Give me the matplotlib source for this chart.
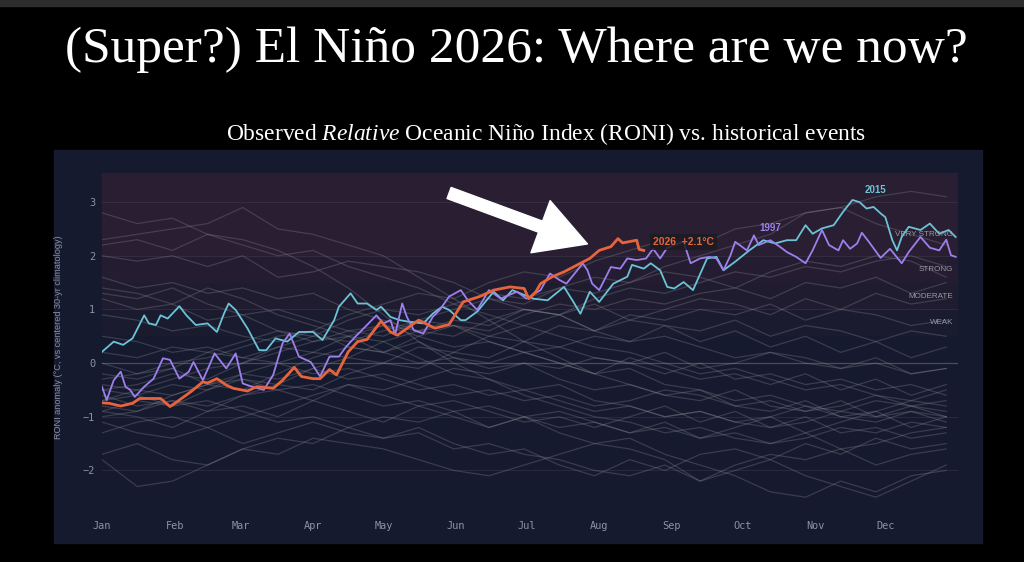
import numpy as np
import matplotlib.pyplot as plt
from matplotlib.patches import Rectangle

plt.rcParams['mathtext.fontset'] = 'custom'
plt.rcParams['mathtext.rm'] = 'Liberation Serif'
plt.rcParams['mathtext.it'] = 'Liberation Serif:italic'

# month ticks (day of year)
month_days = [0, 31, 59, 90, 120, 151, 181, 212, 243, 273, 304, 334]
month_labels = ['Jan', 'Feb', 'Mar', 'Apr', 'May', 'Jun',
                'Jul', 'Aug', 'Sep', 'Oct', 'Nov', 'Dec']

# strength bands (lower, upper, label position, label)
band_lows = [2.0, 1.5, 1.0, 0.5]
band_highs = [3.55, 2.0, 1.5, 1.0]
band_label_y = [2.4, 1.75, 1.25, 0.75]
band_names = ['VERY STRONG', 'STRONG', 'MODERATE', 'WEAK']

# highlighted years: (day of year, RONI anomaly)
roni_2026 = [(0, -0.74), (3, -0.75), (8, -0.80), (13, -0.75), (16, -0.66), (25, -0.66),
             (29, -0.81), (32, -0.72), (38, -0.53), (43, -0.35), (45, -0.37), (49, -0.29),
             (53, -0.41), (56, -0.47), (62, -0.52), (66, -0.44), (73, -0.47), (77, -0.32),
             (82, -0.08), (85, -0.25), (90, -0.29), (93, -0.29), (97, -0.12), (100, -0.22),
             (105, 0.21), (109, 0.40), (113, 0.44), (119, 0.78), (123, 0.58), (126, 0.52),
             (135, 0.80), (142, 0.65), (148, 0.72), (154, 1.14), (161, 1.24), (167, 1.36),
             (174, 1.42), (180, 1.39), (182, 1.20), (185, 1.33), (187, 1.48), (192, 1.61),
             (197, 1.70), (204, 1.86), (208, 1.95), (212, 2.10), (217, 2.17), (220, 2.32),
             (222, 2.24), (228, 2.29), (229, 2.12), (231, 2.10)]

roni_1997 = [(0, -0.44), (2, -0.69), (5, -0.32), (8, -0.16), (10, -0.44), (12, -0.50),
             (14, -0.63), (18, -0.44), (22, -0.29), (26, 0.09), (29, 0.06), (33, -0.29),
             (37, -0.16), (39, 0.02), (43, -0.32), (48, 0.18), (53, -0.10), (57, 0.18),
             (60, -0.38), (64, -0.44), (69, -0.50), (73, -0.22), (77, 0.37), (80, 0.55),
             (84, 0.12), (89, 0.02), (93, -0.25), (97, 0.12), (101, 0.12), (104, 0.30),
             (108, 0.49), (113, 0.71), (117, 0.89), (120, 0.74), (123, 0.80), (125, 0.53),
             (128, 1.11), (130, 0.86), (133, 0.61), (137, 0.55), (141, 0.86), (144, 0.99),
             (148, 1.24), (153, 1.36), (156, 1.17), (160, 0.99), (165, 1.36), (170, 1.20),
             (172, 1.24), (177, 1.33), (181, 1.20), (187, 1.36), (191, 1.67), (195, 1.55),
             (198, 1.48), (201, 1.64), (205, 1.86), (207, 1.73), (209, 1.48), (212, 1.36),
             (217, 1.79), (221, 1.76), (224, 1.95), (228, 1.92), (232, 1.95), (235, 2.13),
             (238, 1.95), (241, 2.15), (248, 2.26), (251, 1.86), (255, 1.95), (259, 1.98),
             (262, 1.95), (265, 1.73), (268, 2.01), (270, 2.26), (275, 2.10), (278, 2.38),
             (280, 2.20), (285, 2.29), (289, 2.17), (292, 2.07), (296, 1.98), (300, 1.86),
             (303, 2.10), (307, 2.48), (310, 2.20), (314, 2.10), (316, 2.29), (319, 2.13),
             (322, 2.23), (324, 2.43), (327, 2.26), (332, 1.96), (336, 2.13), (341, 1.86),
             (344, 2.07), (349, 2.35), (353, 2.15), (357, 2.10), (360, 2.30), (362, 2.01),
             (364, 1.98)]

roni_2015 = [(0, 0.21), (5, 0.40), (9, 0.34), (13, 0.46), (18, 0.89), (20, 0.74), (23, 0.71),
             (25, 0.89), (28, 0.83), (33, 1.06), (36, 0.89), (40, 0.71), (45, 0.74), (49, 0.58),
             (52, 0.92), (54, 1.11), (57, 0.99), (62, 0.65), (67, 0.24), (70, 0.24), (74, 0.46),
             (79, 0.40), (84, 0.58), (90, 0.58), (94, 0.43), (99, 0.80), (101, 1.05), (106, 1.30),
             (109, 1.11), (113, 1.11), (117, 0.99), (119, 1.05), (123, 0.86), (127, 0.80),
             (131, 0.77), (137, 0.74), (141, 0.92), (145, 1.05), (148, 0.99), (153, 0.80),
             (155, 0.80), (160, 0.96), (167, 1.33), (171, 1.17), (175, 1.36), (180, 1.27),
             (184, 1.20), (190, 1.17), (197, 1.42), (201, 1.14), (204, 0.92), (208, 1.33),
             (212, 1.14), (218, 1.48), (224, 1.61), (226, 1.83), (231, 1.76), (234, 1.86),
             (238, 1.73), (241, 1.42), (244, 1.39), (248, 1.51), (252, 1.36), (258, 1.95),
             (262, 1.98), (265, 1.73), (270, 1.89), (276, 2.10), (282, 2.29), (287, 2.23),
             (292, 2.29), (296, 2.29), (300, 2.57), (303, 2.41), (307, 2.51), (312, 2.57),
             (316, 2.82), (320, 3.04), (323, 3.00), (326, 2.88), (329, 2.91), (332, 2.79),
             (334, 2.72), (337, 2.29), (339, 2.10), (341, 2.35), (344, 2.54), (349, 2.48),
             (353, 2.60), (357, 2.41), (361, 2.48), (364, 2.35)]

# other historical years, sampled every 15 days
grey_days = list(range(0, 361, 15))
grey_years = [
    [2.8, 2.6, 2.7, 2.4, 2.3, 2.1, 1.8, 1.4, 0.9, 0.4, 0.0, -0.3, -0.6, -0.8, -1.0, -1.1, -1.3, -1.2, -1.4, -1.5, -1.3, -1.6, -1.5, -1.3, -1.2],
    [2.3, 2.4, 2.5, 2.6, 2.9, 2.5, 2.4, 2.2, 2.0, 1.6, 1.2, 0.8, 0.4, 0.1, -0.2, -0.4, -0.6, -0.5, -0.8, -0.9, -0.7, -1.0, -1.1, -0.9, -1.0],
    [2.2, 2.3, 2.1, 2.4, 2.2, 2.0, 2.1, 1.8, 1.6, 1.4, 1.1, 0.9, 0.7, 0.5, 0.3, 0.2, 0.0, -0.2, -0.1, -0.3, -0.5, -0.4, -0.6, -0.8, -0.7],
    [2.0, 1.9, 2.0, 1.8, 2.0, 1.6, 1.7, 1.9, 1.8, 1.7, 1.5, 1.2, 1.0, 0.9, 0.6, 0.4, 0.5, 0.3, 0.1, 0.2, 0.0, -0.1, 0.1, -0.2, -0.1],
    [1.6, 1.4, 1.5, 1.3, 1.4, 1.2, 1.3, 1.0, 0.8, 0.6, 0.7, 0.4, 0.2, 0.0, -0.2, -0.1, -0.4, -0.5, -0.7, -0.6, -0.8, -0.9, -0.7, -0.8, -1.0],
    [1.4, 1.3, 1.1, 1.4, 1.2, 0.9, 0.7, 0.5, 0.4, 0.1, -0.2, -0.3, -0.5, -0.4, -0.7, -0.8, -1.0, -0.9, -1.1, -1.2, -1.0, -1.3, -1.2, -1.4, -1.3],
    [1.3, 1.2, 1.4, 1.1, 0.9, 1.0, 0.8, 0.6, 0.7, 0.5, 0.3, 0.4, 0.2, 0.3, 0.1, 0.0, -0.2, 0.0, -0.3, -0.2, -0.4, -0.3, -0.5, -0.4, -0.6],
    [1.2, 1.0, 1.1, 0.8, 0.9, 0.6, 0.4, 0.5, 0.2, 0.0, 0.1, -0.1, 0.0, -0.3, -0.5, -0.4, -0.6, -0.7, -0.5, -0.8, -0.9, -0.7, -1.0, -0.9, -1.1],
    [0.9, 0.8, 0.6, 0.7, 0.5, 0.4, 0.6, 0.3, 0.2, 0.4, 0.1, 0.0, 0.2, 0.0, -0.2, 0.1, -0.1, -0.3, -0.2, -0.4, -0.2, -0.5, -0.3, -0.6, -0.4],
    [-0.3, -0.2, 0.0, 0.1, 0.3, 0.5, 0.6, 0.9, 1.1, 1.3, 1.2, 1.5, 1.7, 1.6, 1.9, 2.1, 2.3, 2.2, 2.5, 2.6, 2.8, 2.9, 3.1, 3.2, 3.1],
    [-0.5, -0.4, -0.2, -0.3, 0.0, 0.2, 0.4, 0.6, 0.5, 0.8, 1.0, 1.2, 1.1, 1.4, 1.6, 1.5, 1.8, 2.0, 2.2, 2.4, 2.8, 2.9, 2.6, 2.4, 2.2],
    [-0.7, -0.6, -0.4, -0.5, -0.2, 0.0, 0.2, 0.1, 0.4, 0.6, 0.5, 0.8, 1.0, 0.9, 1.2, 1.4, 1.3, 1.5, 1.7, 1.6, 1.8, 1.7, 1.9, 2.0, 1.8],
    [-0.8, -0.9, -0.6, -0.4, -0.5, -0.2, 0.1, 0.3, 0.2, 0.5, 0.7, 0.6, 0.9, 1.1, 1.0, 1.2, 1.1, 1.3, 1.4, 1.2, 1.5, 1.4, 1.6, 1.3, 1.5],
    [-0.4, -0.5, -0.3, -0.1, 0.0, 0.3, 0.2, 0.5, 0.7, 0.6, 0.8, 0.7, 1.0, 0.9, 1.1, 0.8, 1.0, 1.2, 1.1, 0.9, 1.2, 1.0, 1.3, 1.1, 1.2],
    [-0.9, -0.7, -0.8, -0.5, -0.3, -0.4, -0.1, 0.1, 0.0, 0.3, 0.2, 0.5, 0.4, 0.7, 0.6, 0.9, 0.8, 1.0, 0.9, 1.1, 0.8, 1.0, 0.9, 0.7, 0.8],
    [-0.6, -0.8, -0.7, -0.9, -0.6, -0.4, -0.5, -0.2, 0.0, -0.1, 0.2, 0.1, 0.4, 0.3, 0.5, 0.4, 0.7, 0.6, 0.8, 0.5, 0.7, 0.6, 0.4, 0.6, 0.5],
    [0.2, 0.1, 0.3, 0.2, 0.4, 0.6, 0.5, 0.8, 1.0, 0.9, 1.1, 1.3, 1.2, 1.4, 1.3, 1.5, 1.7, 1.6, 1.4, 1.7, 1.9, 1.8, 2.0, 1.9, 1.6],
    [0.0, -0.2, -0.1, 0.2, 0.1, 0.3, 0.5, 0.4, 0.6, 0.8, 0.7, 0.5, 0.7, 0.9, 0.6, 0.8, 0.7, 0.4, 0.6, 0.3, 0.5, 0.2, 0.4, 0.1, 0.3],
    [-1.8, -2.3, -2.2, -1.9, -1.6, -1.4, -1.5, -1.2, -1.0, -1.1, -0.9, -1.2, -1.0, -1.3, -1.5, -1.4, -1.7, -1.9, -2.1, -2.4, -2.5, -2.2, -2.4, -2.1, -2.0],
    [-1.7, -1.5, -1.8, -1.9, -1.6, -1.7, -1.4, -1.5, -1.6, -1.8, -2.0, -2.1, -1.9, -1.7, -1.5, -1.6, -1.8, -2.2, -1.9, -1.7, -1.8, -1.6, -1.9, -1.7, -1.6],
    [-1.1, -1.3, -1.4, -1.2, -1.5, -1.3, -1.1, -1.3, -1.4, -1.2, -1.5, -1.7, -1.6, -1.9, -2.1, -1.8, -2.0, -1.7, -1.6, -1.8, -1.5, -1.7, -1.4, -1.6, -1.5],
    [-0.9, -1.0, -1.2, -0.9, -0.8, -1.0, -0.7, -0.9, -1.1, -0.8, -1.0, -1.2, -1.0, -0.9, -1.1, -1.3, -1.1, -1.4, -1.2, -1.0, -1.3, -1.1, -0.9, -1.2, -1.0],
    [-1.0, -0.9, -0.7, -0.8, -0.6, -0.5, -0.7, -0.4, -0.6, -0.8, -0.7, -0.9, -1.1, -1.0, -1.2, -1.0, -0.8, -1.1, -0.9, -1.2, -1.1, -0.9, -1.0, -0.8, -0.9],
    [-0.7, -0.5, -0.6, -0.4, -0.2, -0.3, -0.1, -0.3, -0.2, -0.4, -0.6, -0.5, -0.7, -0.6, -0.8, -0.7, -0.5, -0.6, -0.8, -0.7, -0.9, -0.8, -0.6, -0.7, -0.5],
    [-1.3, -1.1, -1.0, -1.2, -1.0, -0.8, -0.6, -0.4, -0.5, -0.3, -0.1, -0.2, 0.0, -0.1, 0.1, 0.0, 0.2, -0.1, 0.0, 0.2, 0.1, -0.1, 0.0, -0.2, -0.1],
    [-0.5, -0.6, -0.8, -0.7, -0.9, -1.1, -1.0, -1.2, -1.4, -1.3, -1.6, -1.5, -1.7, -1.8, -2.0, -2.1, -1.9, -2.2, -2.0, -1.8, -2.1, -2.3, -2.5, -2.2, -1.9],
    [-0.2, -0.3, -0.1, -0.4, -0.3, -0.5, -0.4, -0.6, -0.8, -0.7, -0.9, -0.8, -1.0, -1.2, -1.1, -1.3, -1.2, -1.4, -1.3, -1.5, -1.4, -1.2, -1.3, -1.1, -1.2],
    [0.5, 0.4, 0.2, 0.3, 0.1, 0.0, -0.2, -0.1, -0.3, -0.5, -0.4, -0.6, -0.5, -0.7, -0.9, -0.8, -1.0, -0.9, -1.1, -1.0, -0.8, -1.0, -0.9, -0.7, -0.8],
]

NAVY = '#161a2e'
C2026 = '#e8643c'
C1997 = '#9d80ec'
C2015 = '#6cc3d5'

W, H = 1024, 562
fig = plt.figure(figsize=(W / 100, H / 100), dpi=100, facecolor='black')
fig.patches.append(Rectangle((0, 1 - 6 / H), 1, 6 / H, transform=fig.transFigure,
                             color='#2d2d2d', zorder=-2))
fig.patches.append(Rectangle((54 / W, 19 / H), 928 / W, 393 / H, transform=fig.transFigure,
                             color=NAVY, zorder=-2))

ax = fig.add_axes([102 / W, 1 - 502.6 / H, 856 / W, 330 / H])
ax.set_facecolor(NAVY)
ax.set_xlim(0, 365)
ax.set_ylim(-2.6, 3.55)
for s in ax.spines.values():
    s.set_visible(False)

# strength bands
for lo, hi, a in zip(band_lows, band_highs, [0.2, 0.15, 0.1, 0.05]):
    ax.axhspan(lo, hi, color='#783246', alpha=a, lw=0, zorder=0)

ax.set_yticks([-2, -1, 0, 1, 2, 3])
for v in [-2, -1, 1, 2, 3]:
    ax.axhline(v, color='white', alpha=0.07, lw=0.8, zorder=1)
ax.axhline(0, color='white', alpha=0.22, lw=0.9, zorder=1)

for vals in grey_years:
    ax.plot(grey_days, vals, color='#8a8c94', alpha=0.3, lw=0.9, zorder=2)

for series, col, lw in [(roni_2015, C2015, 1.3), (roni_1997, C1997, 1.3), (roni_2026, C2026, 2.0)]:
    d, v = zip(*series)
    ax.plot(d, v, color=col, lw=lw, zorder=4, solid_joinstyle='round')

for y, name in zip(band_label_y, band_names):
    ax.text(363, y, name, ha='right', va='center', fontsize=5.8, color='#9a9aa2',
            family='Liberation Sans', zorder=5)

ax.text(330, 3.13, '2015', color=C2015, fontsize=7, fontweight='bold',
        family='Liberation Sans', ha='center', va='bottom', zorder=6)
ax.text(285, 2.42, '1997', color=C1997, fontsize=7, fontweight='bold',
        family='Liberation Sans', ha='center', va='bottom', zorder=6)
ax.text(235, 2.25, '2026  +2.1°C', color=C2026, fontsize=7.5, fontweight='bold',
        family='Liberation Sans', ha='left', va='center', zorder=6,
        bbox=dict(boxstyle='square,pad=0.3', fc='#1c1c22', ec='none', alpha=0.85))

# arrow pointing at 2026
ax.annotate('', xy=(207, 2.22), xytext=(148, 3.17), annotation_clip=False,
            arrowprops=dict(arrowstyle='simple,head_length=3.6,head_width=4.0,tail_width=0.85',
                            color='white', shrinkA=0, shrinkB=0, mutation_scale=10),
            zorder=7)

ax.set_xticks(month_days)
ax.set_xticklabels(month_labels)
ax.tick_params(length=0, labelsize=7.4, colors='#8c93a6')
ax.tick_params(axis='x', pad=13)
ax.tick_params(axis='y', pad=5)
for lab in ax.get_xticklabels() + ax.get_yticklabels():
    lab.set_fontfamily('DejaVu Sans Mono')

ax.set_ylabel('RONI anomaly (°C, vs centered 30-yr climatology)', fontsize=6.6,
              color='#8a90a0', family='Liberation Sans', labelpad=14)

fig.text(516 / W, 1 - 62 / H, '(Super?) El Niño 2026: Where are we now?', ha='center',
         va='baseline', color='white', fontsize=37, family='Liberation Serif')
fig.text(546 / W, 1 - 140 / H,
         r'Observed $\mathit{Relative}$ Oceanic Niño Index (RONI) vs. historical events',
         ha='center', va='baseline', color='white', fontsize=16.9, family='Liberation Serif')

fig.savefig('out.png', dpi=100, facecolor='black')
